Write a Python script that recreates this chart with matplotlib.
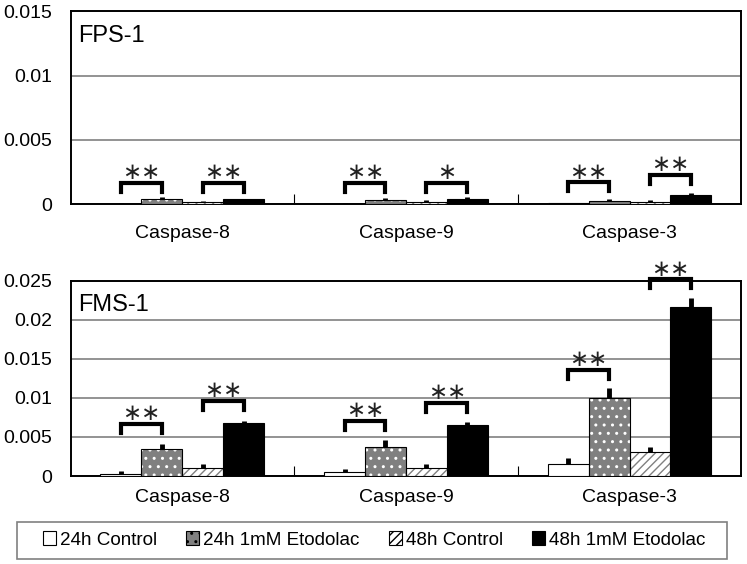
import numpy as np
import matplotlib.pyplot as plt
from matplotlib.patches import Patch, Rectangle

plt.rcParams['font.family'] = ['Liberation Sans', 'DejaVu Sans']
plt.rcParams['hatch.linewidth'] = 1.0

groups = ['Caspase-8', 'Caspase-9', 'Caspase-3']
series = ['24h Control', '24h 1mM Etodolac', '48h Control', '48h 1mM Etodolac']

# FPS-1 (top panel)
fps_vals = [
    [0.00005, 0.00005, 0.00006],   # 24h Control
    [0.00037, 0.00035, 0.00021],   # 24h 1mM Etodolac
    [0.00016, 0.00018, 0.00020],   # 48h Control
    [0.00037, 0.00044, 0.00070],   # 48h 1mM Etodolac
]
fps_err = [
    [0.00004, 0.00005, 0.00005],
    [0.00020, 0.00015, 0.00016],
    [0.00012, 0.00012, 0.00010],
    [0.00007, 0.00010, 0.00018],
]
fps_sig = [['**', '**'], ['**', '*'], ['**', '**']]
fps_brk = [[0.00166, 0.00166], [0.00166, 0.00168], [0.00170, 0.00228]]

# FMS-1 (bottom panel)
fms_vals = [
    [0.00020, 0.00047, 0.00150],
    [0.00340, 0.00375, 0.00995],
    [0.00106, 0.00106, 0.00310],
    [0.00680, 0.00650, 0.02167],
]
fms_err = [
    [0.00040, 0.00043, 0.00077],
    [0.00070, 0.00085, 0.00135],
    [0.00044, 0.00054, 0.00064],
    [0.00022, 0.00040, 0.00108],
]
fms_sig = [['**', '**'], ['**', '**'], ['**', '**']]
fms_brk = [[0.0067, 0.0096], [0.0071, 0.0094], [0.0136, 0.0252]]

face = ['white', '#808080', 'white', 'black']
hatch = [None, '..', '////', None]
hcol = [None, 'white', '#808080', None]

W = 0.183
offs = (np.arange(4) - 1.5) * W
x = np.arange(len(groups))


def panel(ax, vals, errs, sig, brk, ymax, step, label, leg_len):
    for i in range(4):
        xs = x + offs[i]
        if hatch[i]:
            ax.bar(xs, vals[i], W, color=face[i], hatch=hatch[i], edgecolor=hcol[i], lw=0, zorder=3)
            ax.bar(xs, vals[i], W, color='none', edgecolor='black', lw=0.8, zorder=4)
        else:
            ax.bar(xs, vals[i], W, color=face[i], edgecolor='black', lw=0.8, zorder=3)
        ax.errorbar(xs, vals[i], yerr=[np.zeros(3), errs[i]], fmt='none', ecolor='black',
                    elinewidth=3.5, capsize=0, zorder=5)
    for g in range(3):
        for p in range(2):
            x0 = x[g] + offs[2 * p]
            x1 = x[g] + offs[2 * p + 1]
            yt = brk[g][p]
            ax.plot([x0, x0, x1, x1], [yt - leg_len, yt, yt, yt - leg_len], color='black',
                    lw=3, solid_joinstyle='miter', clip_on=False, zorder=6)
            ax.annotate(sig[g][p].replace('*', '\u2217'),
                        xy=((x0 + x1) / 2, yt), xytext=(0, -1), textcoords='offset points',
                        ha='center', va='bottom', fontsize=16.5, family='DejaVu Sans',
                        color='#222222', annotation_clip=False)
    ax.set_xlim(-0.5, 2.5)
    ax.set_ylim(0, ymax)
    ax.set_yticks(np.arange(0, ymax + step / 2, step))
    ax.set_yticklabels(['0'] + ['%g' % v for v in np.arange(step, ymax + step / 2, step)])
    ax.yaxis.grid(True, color='#808080', lw=1.2, zorder=0)
    ax.set_axisbelow(True)
    ax.tick_params(axis='y', length=0, pad=13, labelsize=14)
    ax.set_xticks(x)
    ax.set_xticklabels(groups)
    ax.set_xticks([0.5, 1.5], minor=True)
    ax.tick_params(axis='x', which='major', length=0, labelsize=14)
    ax.tick_params(axis='x', which='minor', direction='in', length=7, width=0.8)
    for s in ax.spines.values():
        s.set_linewidth(1.4)
        s.set_color('black')
    ax.text(0.012, 0.93, label, transform=ax.transAxes, fontsize=17, va='top', ha='left')


fig = plt.figure(figsize=(7.47, 5.64), dpi=100)
ax1 = fig.add_axes([0.0944, 0.638, 0.898, 0.342])
ax2 = fig.add_axes([0.0944, 0.156, 0.898, 0.3463])

panel(ax1, fps_vals, fps_err, fps_sig, fps_brk, 0.015, 0.005, 'FPS-1', 0.0007)
ax1.tick_params(axis='x', which='major', pad=15)
panel(ax2, fms_vals, fms_err, fms_sig, fms_brk, 0.025, 0.005, 'FMS-1', 0.00115)
ax2.tick_params(axis='x', which='major', pad=9)

# legend frame drawn by hand (wider side padding than the legend box allows)
fig.patches.append(Rectangle((17 / 747, 5 / 564), 710 / 747, 37 / 564, transform=fig.transFigure,
                             facecolor='white', edgecolor='#808080', lw=1.2))
handles = []
for i in range(4):
    handles.append(Patch(facecolor=face[i], edgecolor='black', hatch=hatch[i], lw=0.8))
leg = fig.legend(handles, series, loc='center', bbox_to_anchor=(374 / 747, 1 - 540 / 564),
                 ncol=4, fontsize=13.6, frameon=False, handlelength=0.7,
                 handleheight=0.7, handletextpad=0.2, columnspacing=1.55)

fig.savefig('out.png', dpi=100)
